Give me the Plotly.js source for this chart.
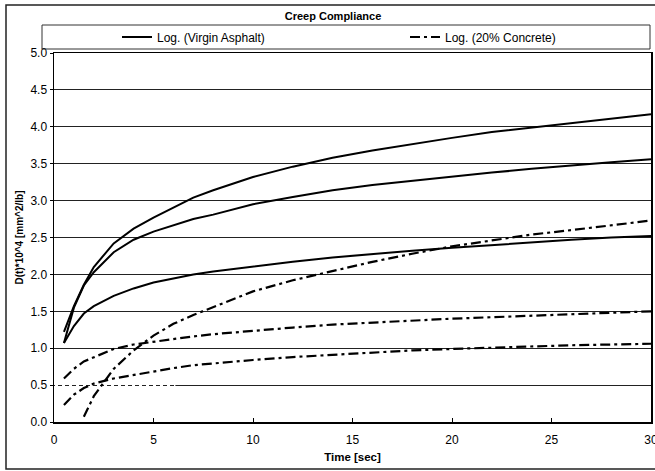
<!DOCTYPE html>
<html>
<head>
<meta charset="utf-8">
<script src="https://cdn.plot.ly/plotly-3.0.1.min.js"></script>
<style>html,body{margin:0;padding:0;background:#fff;}#chart{width:655px;height:471px;}</style>
</head>
<body>
<div id="chart"></div>
<script>
// Time values (sec)
const time = [0.5, 1, 1.5, 2, 3, 4, 5, 6, 7, 8, 10, 12, 14, 16, 18, 20, 22, 24, 26, 28, 30];
// Virgin asphalt log fits (three replicates)
const virginA = [1.22, 1.57, 1.86, 2.10, 2.42, 2.62, 2.77, 2.91, 3.04, 3.14, 3.32, 3.46, 3.58, 3.68, 3.77, 3.85, 3.93, 3.99, 4.05, 4.11, 4.17];
const virginB = [1.07, 1.55, 1.85, 2.03, 2.30, 2.47, 2.58, 2.67, 2.75, 2.81, 2.95, 3.05, 3.14, 3.21, 3.27, 3.32, 3.38, 3.43, 3.48, 3.52, 3.56];
const virginC = [1.07, 1.30, 1.47, 1.57, 1.71, 1.81, 1.89, 1.95, 2.00, 2.04, 2.11, 2.17, 2.23, 2.28, 2.32, 2.36, 2.40, 2.43, 2.47, 2.50, 2.52];
// 20% concrete log fits (three replicates)
const timeC1 = [1.5, 2, 3, 4, 5, 6, 7, 8, 10, 12, 14, 16, 18, 20, 22, 24, 26, 28, 30];
const concrete1 = [0.07, 0.35, 0.72, 0.97, 1.17, 1.33, 1.45, 1.56, 1.77, 1.92, 2.05, 2.17, 2.28, 2.38, 2.46, 2.54, 2.60, 2.67, 2.73];
const concrete2 = [0.59, 0.72, 0.82, 0.88, 0.99, 1.05, 1.09, 1.13, 1.16, 1.19, 1.24, 1.28, 1.32, 1.35, 1.38, 1.40, 1.42, 1.44, 1.46, 1.48, 1.50];
const concrete3 = [0.23, 0.37, 0.46, 0.52, 0.59, 0.64, 0.69, 0.73, 0.77, 0.79, 0.84, 0.88, 0.91, 0.94, 0.97, 0.99, 1.01, 1.02, 1.04, 1.05, 1.06];

const seriesNames = ['Log. (Virgin Asphalt)', 'Log. (20% Concrete)'];

const solid = {color: '#000', width: 2, dash: 'solid'};
const dashdot = {color: '#000', width: 2.2, dash: '10px,4px,3px,4px'};

const traces = [
  {x: time, y: virginA, mode: 'lines', line: solid, name: seriesNames[0], legend: 'legend', showlegend: true, hoverinfo: 'skip'},
  {x: time, y: virginB, mode: 'lines', line: solid, name: seriesNames[0], showlegend: false, hoverinfo: 'skip'},
  {x: time, y: virginC, mode: 'lines', line: solid, name: seriesNames[0], showlegend: false, hoverinfo: 'skip'},
  {x: timeC1, y: concrete1, mode: 'lines', line: dashdot, name: seriesNames[1], legend: 'legend2', showlegend: true, hoverinfo: 'skip'},
  {x: time, y: concrete2, mode: 'lines', line: dashdot, name: seriesNames[1], showlegend: false, hoverinfo: 'skip'},
  {x: time, y: concrete3, mode: 'lines', line: dashdot, name: seriesNames[1], showlegend: false, hoverinfo: 'skip'}
];

const FONT = 'Liberation Sans, Arial, sans-serif';
const W = 655, H = 471, L = 54, R = 4, T = 53, B = 49;
const pw = W - L - R, ph = H - T - B;
const px2x = p => (p - L) / pw;
const py2y = p => (H - B - p) / ph;

const legendCommon = {
  orientation: 'h', bgcolor: 'rgba(0,0,0,0)', borderwidth: 0,
  font: {family: FONT, size: 12, color: '#000'},
  yanchor: 'middle', xanchor: 'left', y: py2y(37), yref: 'paper', xref: 'paper'
};

const layout = {
  width: W, height: H,
  margin: {l: L, r: R, t: T, b: B, pad: 0},
  paper_bgcolor: '#fff', plot_bgcolor: '#fff',
  font: {family: FONT, size: 12, color: '#000'},
  title: {text: '<b>Creep Compliance</b>', font: {family: FONT, size: 11, color: '#000'},
          x: 333 / W, xanchor: 'center', y: 1 - 16 / H, yanchor: 'middle', xref: 'container', yref: 'container'},
  xaxis: {
    range: [0, 30], dtick: 5, tick0: 0, showgrid: false, zeroline: false,
    showline: true, linecolor: '#000', linewidth: 1.5, mirror: true,
    ticks: 'inside', ticklen: 4, tickcolor: '#000', ticklabelstandoff: 6,
    ticklabeloverflow: 'allow',
    tickfont: {family: FONT, size: 12, color: '#000'},
    title: {text: '<b>Time [sec]</b>', font: {family: FONT, size: 11.5, color: '#000'}, standoff: 7}
  },
  yaxis: {
    range: [0, 5], dtick: 0.5, tick0: 0, tickformat: '.1f',
    showgrid: true, gridcolor: '#222', gridwidth: 1, zeroline: false,
    showline: true, linecolor: '#000', linewidth: 1.5, mirror: true,
    ticks: 'outside', ticklen: 3, tickcolor: '#000',
    tickfont: {family: FONT, size: 12, color: '#000'},
    title: {text: '<b>D(t)*10^4 [mm^2/lb]</b>', font: {family: FONT, size: 10, color: '#000'}, standoff: 5}
  },
  showlegend: true,
  legend: Object.assign({}, legendCommon, {x: px2x(117)}),
  legend2: Object.assign({}, legendCommon, {x: px2x(405)}),
  shapes: [
    // outer chart frame
    {type: 'rect', xref: 'paper', yref: 'paper', x0: px2x(6), x1: px2x(660), y0: py2y(469), y1: py2y(5),
     line: {color: '#222', width: 1.5}, fillcolor: 'rgba(0,0,0,0)', layer: 'above'},
    // legend box
    {type: 'rect', xref: 'paper', yref: 'paper', x0: px2x(42), x1: px2x(650), y0: py2y(49), y1: py2y(25),
     line: {color: '#333', width: 1}, fillcolor: 'rgba(0,0,0,0)', layer: 'above'},
    // broken part of the 0.5 gridline
    {type: 'line', xref: 'x', yref: 'y', x0: 0.05, x1: 6.1, y0: 0.5, y1: 0.5,
     line: {color: '#fff', width: 2, dash: '3px,4px'}, layer: 'between'}
  ]
};

Plotly.newPlot('chart', traces, layout, {staticPlot: true, displayModeBar: false});
</script>
</body>
</html>
